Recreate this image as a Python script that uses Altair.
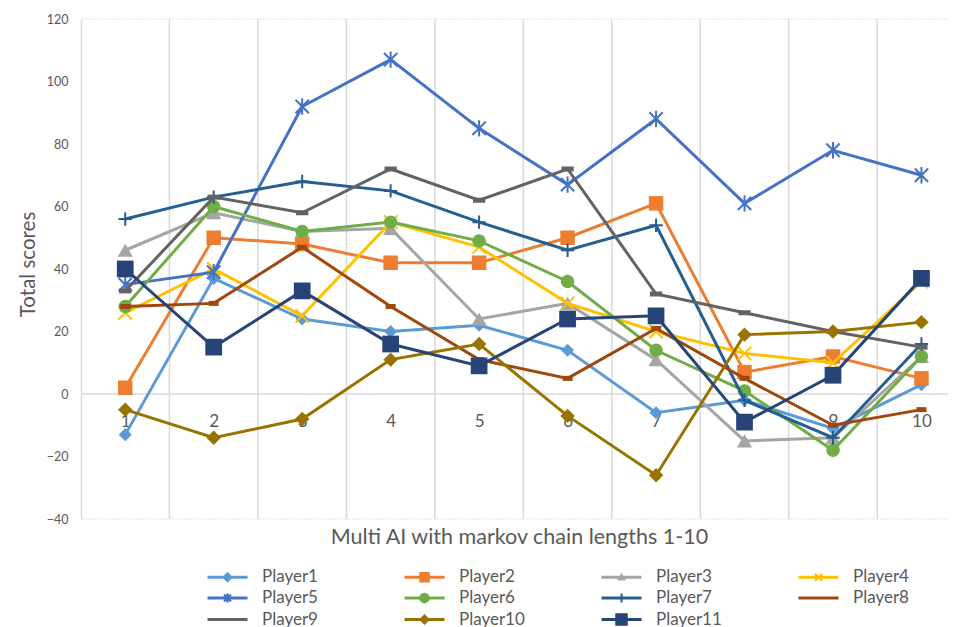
import altair as alt
import pandas as pd

# ---------------- data ----------------
categories = [1, 2, 3, 4, 5, 6, 7, 8, 9, 10]
players = ["Player1", "Player2", "Player3", "Player4", "Player5", "Player6",
           "Player7", "Player8", "Player9", "Player10", "Player11"]
player1 = [-13, 37, 24, 20, 22, 14, -6, -2, -11, 3]
player2 = [2, 50, 48, 42, 42, 50, 61, 7, 12, 5]
player3 = [46, 58, 52, 53, 24, 29, 11, -15, -14, 12]
player4 = [26, 40, 25, 55, 47, 29, 20, 13, 10, 36]
player5 = [35, 39, 92, 107, 85, 67, 88, 61, 78, 70]
player6 = [28, 60, 52, 55, 49, 36, 14, 1, -18, 12]
player7 = [56, 63, 68, 65, 55, 46, 54, -2, -14, 16]
player8 = [28, 29, 47, 28, 11, 5, 21, 5, -10, -5]
player9 = [33, 63, 58, 72, 62, 72, 32, 26, 20, 15]
player10 = [-5, -14, -8, 11, 16, -7, -26, 19, 20, 23]
player11 = [40, 15, 33, 16, 9, 24, 25, -9, 6, 37]
y_ticks = [-40, -20, 0, 20, 40, 60, 80, 100, 120]
x_title = "Multi AI with markov chain lengths 1-10"
y_title = "Total scores"

series = [player1, player2, player3, player4, player5, player6,
          player7, player8, player9, player10, player11]

# ---------------- styles ----------------
colors = ["#5B9BD5", "#ED7D31", "#A5A5A5", "#FFC000", "#4472C4", "#70AD47",
          "#255E91", "#9E480E", "#636363", "#997300", "#264478"]

X_PATH = "M-1,-1L1,1M-1,1L1,-1"
STAR_PATH = "M-0.9,-0.9L0.9,0.9M-0.9,0.9L0.9,-0.9M0,-1.1V1.1"
PLUS_PATH = "M-1,0H1M0,-1V1"
DASH_PATH = "M-1,0H1"
# (shape, size, filled, strokeWidth)
markers = [
    ("diamond", 170, True, 1),
    ("square", 210, True, 1),
    ("triangle-up", 230, True, 1),
    (X_PATH, 180, False, 2),
    (STAR_PATH, 220, False, 2),
    ("circle", 180, True, 1),
    (PLUS_PATH, 180, False, 2),
    (DASH_PATH, 100, False, 5),
    (DASH_PATH, 150, False, 5),
    ("diamond", 210, True, 1),
    ("square", 280, True, 1),
]

# legend symbols: line + marker, drawn with 2px strokes (1 unit = 5px)
LINE = "M-4,-0.1H4M-4,0.1H4"
DIAMOND_L = "M0,-0.8L0.8,0L0,0.8L-0.8,0ZM0,-0.3L0.3,0L0,0.3L-0.3,0Z"
SQUARE_L = "M-0.85,-0.85H0.85V0.85H-0.85ZM-0.45,-0.45H0.45V0.45H-0.45Z"
SQUARE_BIG_L = "M-1.05,-1.05H1.05V1.05H-1.05ZM-0.65,-0.65H0.65V0.65H-0.65ZM-0.25,-0.25H0.25V0.25H-0.25Z"
TRI_L = "M-0.15,-0.6H0.15M-0.35,-0.25H0.35M-0.55,0.1H0.55M-0.8,0.45H0.8"
X_L = "M-0.7,-0.7L0.7,0.7M-0.7,0.7L0.7,-0.7"
STAR_L = "M-0.7,-0.7L0.7,0.7M-0.7,0.7L0.7,-0.7M0,-0.95V0.95"
CIRC_L = ("M0.85,0A0.85,0.85,0,1,1,-0.85,0A0.85,0.85,0,1,1,0.85,0Z"
          "M0.45,0A0.45,0.45,0,1,1,-0.45,0A0.45,0.45,0,1,1,0.45,0Z")
PLUS_L = "M0,-0.9V0.9"
legend_paths = [LINE + DIAMOND_L, LINE + SQUARE_L, LINE + TRI_L, LINE + X_L,
                LINE + STAR_L, LINE + CIRC_L, LINE + PLUS_L, LINE, LINE,
                LINE + DIAMOND_L, LINE + SQUARE_BIG_L]

FONT = "Lato"
TEXT = "#595959"
GRID = "#D9D9D9"
W, H = 867, 500
Y_MIN, Y_MAX = y_ticks[0], y_ticks[-1]

# ---------------- table ----------------
df = pd.DataFrame([
    {"player": p, "step": c, "score": v}
    for p, vals in zip(players, series)
    for c, v in zip(categories, vals)
])

x_scale = alt.Scale(domain=[0.5, 10.3], nice=False, zero=False)
y_scale = alt.Scale(domain=[Y_MIN, Y_MAX], nice=False, zero=False)

x_axis = alt.Axis(
    values=categories, format="d", title=x_title, grid=False, domain=False,
    ticks=False, offset=-H * (0 - Y_MIN) / (Y_MAX - Y_MIN),
    labelPadding=27, labelBaseline="middle", labelFlush=False, labelOverlap=False,
    labelFont=FONT, labelFontSize=17, labelColor=TEXT,
    titleFont=FONT, titleFontSize=21.5, titleFontWeight="normal", titleColor=TEXT,
    titleX=438, titleY=143, titleBaseline="middle",
)
y_axis = alt.Axis(
    values=y_ticks, grid=False, ticks=False, domainColor=GRID, domainWidth=1.5,
    labelPadding=13, labelFont=FONT, labelFontSize=12.5, labelColor=TEXT,
    title=y_title, titleFont=FONT, titleFontSize=20.5, titleFontWeight="normal",
    titleColor=TEXT, titleX=-53, titleY=245, titleBaseline="middle",
)

X = alt.X("step:Q", scale=x_scale, axis=x_axis)
Y = alt.Y("score:Q", scale=y_scale, axis=y_axis)

legend = alt.Legend(
    title=None, orient="none", direction="horizontal", legendX=123, legendY=549,
    columns=4, gridAlign="all", columnPadding=72, rowPadding=2.5, padding=0,
    symbolSize=100, symbolStrokeWidth=2, symbolOffset=15, labelOffset=26,
    labelFont=FONT, labelFontSize=17, labelColor=TEXT,
)

legend_layer = alt.Chart(df).transform_filter("datum.score > 100000").mark_point(
    filled=False, opacity=1, size=100, strokeWidth=2
).encode(
    x=X, y=Y,
    color=alt.Color("player:N", scale=alt.Scale(domain=players, range=colors), legend=legend),
    shape=alt.Shape("player:N", scale=alt.Scale(domain=players, range=legend_paths), legend=legend),
)

grid_df = pd.DataFrame({"step": [c + 0.5 for c in categories[:-1]]})
grid_layer = alt.Chart(grid_df).mark_rule(color=GRID, strokeWidth=1.5).encode(x=X)
zero_layer = alt.Chart(pd.DataFrame({"score": [0]})).mark_rule(
    color=GRID, strokeWidth=1.5).encode(y=Y)
edge_layer = alt.Chart(pd.DataFrame({"score": [Y_MIN, Y_MAX]})).mark_rule(
    color=GRID, strokeWidth=1.2, strokeDash=[1.5, 1.5]).encode(y=Y)

layers = [legend_layer, grid_layer, zero_layer, edge_layer]
for name, col, (shape, size, filled, sw) in zip(players, colors, markers):
    base = alt.Chart(df).transform_filter(alt.datum.player == name)
    layers.append(base.mark_line(color=col, strokeWidth=3).encode(x=X, y=Y))
    layers.append(base.mark_point(
        shape=shape, size=size, filled=filled, color=col, strokeWidth=sw, opacity=1
    ).encode(x=X, y=Y))

chart = alt.layer(*layers).properties(
    width=W, height=H,
    autosize=alt.AutoSizeParams(type="none"),
    padding={"left": 73, "top": 11, "right": 0, "bottom": 110},
    background="white",
).configure_view(stroke=None)

chart.save("out.html", embed_options={"renderer": "svg", "actions": False})
